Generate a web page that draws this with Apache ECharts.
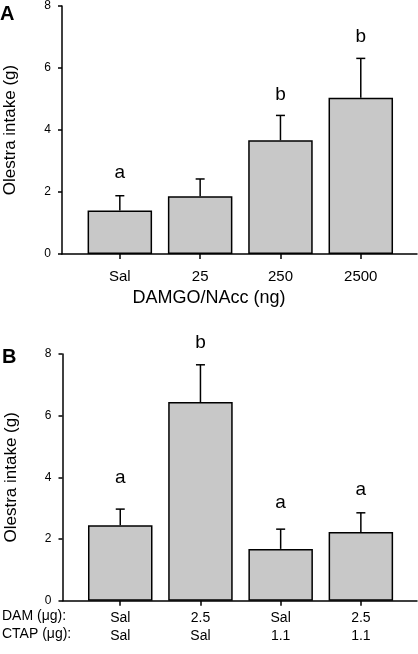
<!DOCTYPE html>
<html>
<head>
<meta charset="utf-8">
<script src="https://cdn.jsdelivr.net/npm/echarts@6/dist/echarts.min.js"></script>
<style>html,body{margin:0;padding:0;background:#fff;}#c{width:418px;height:654px;}</style>
</head>
<body>
<div id="c"></div>
<script>
// ---- Data ----
var catsA = ['Sal', '25', '250', '2500'];
var meanA = [1.40, 1.86, 3.67, 5.04];
var semA  = [0.48, 0.56, 0.80, 1.27];
var lettersA = ['a', '', 'b', 'b'];

var damB  = ['Sal', '2.5', 'Sal', '2.5'];
var ctapB = ['Sal', 'Sal', '1.1', '1.1'];
var meanB = [2.45, 6.44, 1.68, 2.23];
var semB  = [0.52, 1.21, 0.64, 0.62];
var lettersB = ['a', 'b', 'a', 'a'];

var yTicks = [0, 2, 4, 6, 8];

// ---- Styling ----
var FONT = 'Liberation Sans, Arial, sans-serif';
var letterGapA = [23, 0, 21, 22];
var letterGapB = [31, 22, 26, 23];

function barData(means) { return means.map(function (v, i) { return [i + 1, v]; }); }
function errData(means, sems) { return means.map(function (v, i) { return [i + 1, v, sems[i]]; }); }

function errRender(letters, gaps) {
  return function (params, api) {
    var x = api.value(0), m = api.value(1), e = api.value(2);
    var b = api.coord([x, m]);
    var t = api.coord([x, m + e]);
    var idx = params.dataIndex;
    var st = { stroke: '#000', lineWidth: 1.5 };
    var children = [
      { type: 'line', shape: { x1: b[0], y1: b[1], x2: t[0], y2: t[1] }, style: st },
      { type: 'line', shape: { x1: t[0] - 4.5, y1: t[1], x2: t[0] + 4.5, y2: t[1] }, style: st }
    ];
    if (letters[idx]) {
      children.push({ type: 'text', x: t[0], y: t[1] - gaps[idx],
        style: { text: letters[idx], font: '19px ' + FONT, fill: '#000', align: 'center', verticalAlign: 'middle' } });
    }
    return { type: 'group', children: children };
  };
}

function xAxisCfg(gi, formatter, fontSize, margin, lineHeight) {
  return {
    type: 'value', gridIndex: gi, min: 0.28, max: 4.7,
    axisLine: { show: true, onZero: false, lineStyle: { color: '#000', width: 1.5 } },
    splitLine: { show: false },
    axisTick: { show: true, customValues: [1, 2, 3, 4], length: 5, lineStyle: { color: '#000', width: 1.5 } },
    axisLabel: { customValues: [1, 2, 3, 4], formatter: formatter, fontSize: fontSize, fontFamily: FONT,
      color: '#000', margin: margin, lineHeight: lineHeight }
  };
}
function yAxisCfg(gi) {
  return {
    type: 'value', gridIndex: gi, min: yTicks[0], max: yTicks[yTicks.length - 1], interval: 2,
    name: 'Olestra intake (g)', nameLocation: 'middle', nameGap: 43,
    nameTextStyle: { fontSize: 17, fontFamily: FONT, color: '#000' },
    axisLine: { show: true, lineStyle: { color: '#000', width: 1.5 } },
    axisTick: { show: true, length: 4, lineStyle: { color: '#000', width: 1.5 } },
    splitLine: { show: false },
    axisLabel: { fontSize: 12, fontFamily: FONT, color: '#000', margin: 11 }
  };
}

var chart = echarts.init(document.getElementById('c'), null, { renderer: 'canvas' });
chart.setOption({
  backgroundColor: '#fff',
  animation: false,
  grid: [
    { left: 62, right: 1, top: 6, height: 248, containLabel: false, outerBoundsMode: 'none' },
    { left: 62.5, right: 1, top: 354, height: 246.7, containLabel: false, outerBoundsMode: 'none' }
  ],
  xAxis: [
    xAxisCfg(0, function (v) { return catsA[Math.round(v) - 1]; }, 15, 14, 18),
    xAxisCfg(1, function (v) { var i = Math.round(v) - 1; return damB[i] + '\n' + ctapB[i]; }, 14, 8, 18)
  ],
  yAxis: [yAxisCfg(0), yAxisCfg(1)],
  graphic: [
    { type: 'text', left: 0, top: 4, style: { text: 'A', font: 'bold 20px ' + FONT, fill: '#000' } },
    { type: 'text', left: 2, top: 347, style: { text: 'B', font: 'bold 20px ' + FONT, fill: '#000' } },
    { type: 'text', left: 'center', top: 289, style: { text: 'DAMGO/NAcc (ng)', font: '18px ' + FONT, fill: '#000' } },
    { type: 'text', left: 2, top: 609, style: { text: 'DAM (\u03bcg):', font: '14px ' + FONT, fill: '#000' } },
    { type: 'text', left: 2, top: 627, style: { text: 'CTAP (\u03bcg):', font: '14px ' + FONT, fill: '#000' } }
  ],
  series: [
    { type: 'bar', xAxisIndex: 0, yAxisIndex: 0, data: barData(meanA), barWidth: 64.5,
      itemStyle: { color: '#c8c8c8', borderColor: '#000', borderWidth: 1.5 } },
    { type: 'custom', xAxisIndex: 0, yAxisIndex: 0, data: errData(meanA, semA),
      renderItem: errRender(lettersA, letterGapA), z: 3 },
    { type: 'bar', xAxisIndex: 1, yAxisIndex: 1, data: barData(meanB), barWidth: 64.5,
      itemStyle: { color: '#c8c8c8', borderColor: '#000', borderWidth: 1.5 } },
    { type: 'custom', xAxisIndex: 1, yAxisIndex: 1, data: errData(meanB, semB),
      renderItem: errRender(lettersB, letterGapB), z: 3 }
  ]
});
</script>
</body>
</html>
